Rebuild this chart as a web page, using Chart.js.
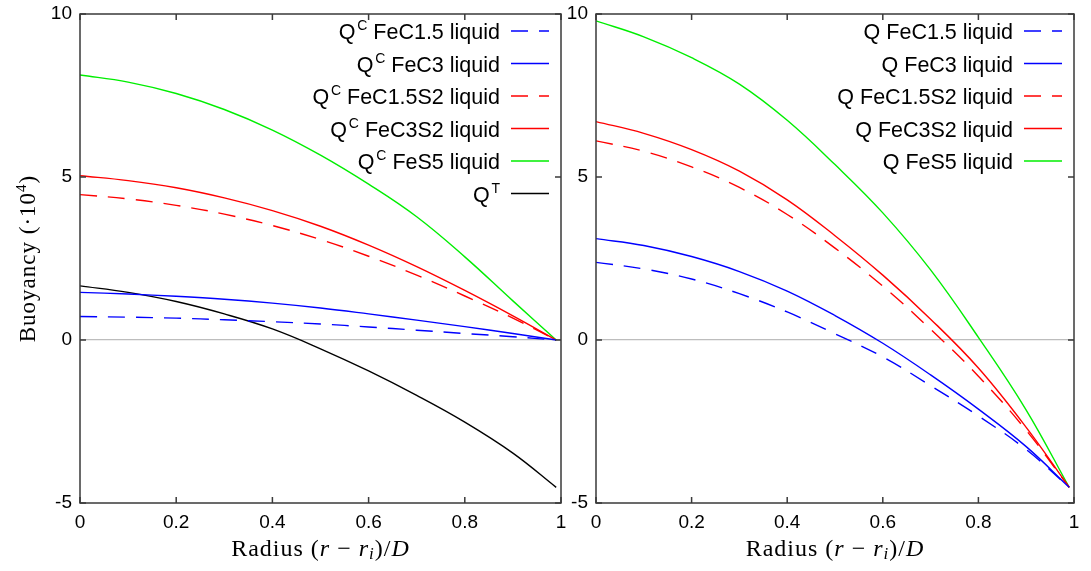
<!DOCTYPE html>
<html>
<head>
<meta charset="utf-8">
<script src="https://cdn.jsdelivr.net/npm/chart.js@4.4.1/dist/chart.umd.min.js"></script>
<style>
  html, body { margin: 0; padding: 0; background: #fff; }
  #wrap { position: relative; width: 1091px; height: 571px; }
  .panel { position: absolute; top: 0; height: 571px; }
  #left { left: 0; width: 566px; }
  #right { left: 560px; width: 531px; }
</style>
</head>
<body>
<div id="wrap">
  <div class="panel" id="left"><canvas id="graficoEsq"></canvas></div>
  <div class="panel" id="right"><canvas id="graficoDir"></canvas></div>
</div>
<script>
// radius (r - ri)/D
const raio = [0, 0.1, 0.2, 0.3, 0.4, 0.5, 0.6, 0.7, 0.8, 0.9, 0.99];
const xTicks = [0, 0.2, 0.4, 0.6, 0.8, 1];
const yTicks = [-5, 0, 5, 10];

// left panel: compositional buoyancy + thermal
const labelsEsq = ['Q^C FeC1.5 liquid', 'Q^C FeC3 liquid', 'Q^C FeC1.5S2 liquid', 'Q^C FeC3S2 liquid', 'Q^C FeS5 liquid', 'Q^T'];
const qcFeC15   = [0.72, 0.70, 0.67, 0.62, 0.56, 0.49, 0.40, 0.30, 0.20, 0.10, 0];
const qcFeC3    = [1.46, 1.41, 1.34, 1.25, 1.13, 0.98, 0.80, 0.61, 0.41, 0.20, 0];
const qcFeC15S2 = [4.46, 4.33, 4.13, 3.86, 3.51, 3.08, 2.57, 1.99, 1.35, 0.67, 0];
const qcFeC3S2  = [5.04, 4.89, 4.67, 4.36, 3.97, 3.49, 2.91, 2.25, 1.52, 0.74, 0];
const qcFeS5    = [8.13, 7.91, 7.56, 7.07, 6.44, 5.67, 4.78, 3.78, 2.55, 1.20, 0];
const qT        = [1.66, 1.46, 1.18, 0.80, 0.34, -0.27, -0.95, -1.70, -2.52, -3.47, -4.52];

// right panel: total buoyancy
const labelsDir = ['Q FeC1.5 liquid', 'Q FeC3 liquid', 'Q FeC1.5S2 liquid', 'Q FeC3S2 liquid', 'Q FeS5 liquid'];
const qFeC15   = [2.38, 2.18, 1.87, 1.42, 0.86, 0.19, -0.52, -1.40, -2.33, -3.36, -4.52];
const qFeC3    = [3.11, 2.90, 2.56, 2.10, 1.50, 0.75, -0.10, -1.07, -2.12, -3.27, -4.52];
const qFeC15S2 = [6.11, 5.79, 5.31, 4.68, 3.85, 2.82, 1.65, 0.33, -1.11, -2.77, -4.52];
const qFeC3S2  = [6.70, 6.34, 5.84, 5.18, 4.30, 3.20, 1.99, 0.64, -0.86, -2.68, -4.52];
const qFeS5    = [9.79, 9.30, 8.66, 7.85, 6.74, 5.38, 3.90, 2.15, 0.08, -2.15, -4.52];

const cores = ['#0000ff', '#0000ff', '#ff0000', '#ff0000', '#00ee00', '#000000'];
const tracos = [[17, 11], [], [17, 11], [], [], []];

const fonteSans = '"Liberation Sans", Arial, sans-serif';
const fonteSerif = '"Liberation Serif", "Times New Roman", serif';

// draws a list of [text, font, dy] pieces starting at x
function desenharPartes(ctx, partes, x, y) {
  partes.forEach(p => {
    ctx.font = p[1];
    ctx.fillText(p[0], x, y + (p[2] || 0));
    x += ctx.measureText(p[0]).width;
  });
}
function larguraPartes(ctx, partes) {
  let w = 0;
  partes.forEach(p => { ctx.font = p[1]; w += ctx.measureText(p[0]).width; });
  return w;
}

// frame with inward ticks, gnuplot style
const moldura = {
  id: 'moldura',
  afterDatasetsDraw(chart) {
    const ctx = chart.ctx;
    const a = chart.chartArea;
    const sx = chart.scales.x, sy = chart.scales.y;
    ctx.save();
    ctx.strokeStyle = '#3a3a3a';
    ctx.lineWidth = 1.5;
    ctx.strokeRect(a.left, a.top, a.right - a.left, a.bottom - a.top);
    ctx.beginPath();
    xTicks.forEach(v => {
      const px = sx.getPixelForValue(v);
      ctx.moveTo(px, a.bottom); ctx.lineTo(px, a.bottom - 6);
      ctx.moveTo(px, a.top); ctx.lineTo(px, a.top + 6);
    });
    yTicks.forEach(v => {
      const py = sy.getPixelForValue(v);
      ctx.moveTo(a.left, py); ctx.lineTo(a.left + 6, py);
      ctx.moveTo(a.right, py); ctx.lineTo(a.right - 6, py);
    });
    ctx.stroke();
    ctx.restore();
  }
};

// legend on the right, text right-aligned, with superscripts
const legendaQ = {
  id: 'legendaQ',
  afterDatasetsDraw(chart) {
    const ctx = chart.ctx;
    const a = chart.chartArea;
    const fonte = '21.5px ' + fonteSans;
    const fonteSup = '14px ' + fonteSans;
    ctx.save();
    chart.data.datasets.forEach((ds, i) => {
      const y = a.top + 17 + i * 32.5;
      const x1 = a.right - 50, x2 = a.right - 12;
      ctx.strokeStyle = ds.borderColor;
      ctx.lineWidth = 1.4;
      ctx.setLineDash(ds.borderDash || []);
      ctx.beginPath(); ctx.moveTo(x1, y); ctx.lineTo(x2, y); ctx.stroke();
      ctx.setLineDash([]);
      const m = ds.label.match(/^(\S+)\^(\S)(.*)$/);
      const partes = m ? [[m[1] + '\u200a', fonte], [m[2], fonteSup, -9], [m[3], fonte]] : [[ds.label, fonte]];
      ctx.fillStyle = '#000';
      ctx.textBaseline = 'alphabetic';
      const w = larguraPartes(ctx, partes);
      desenharPartes(ctx, partes, x1 - 11 - w, y + 8);
    });
    ctx.restore();
  }
};

// axis titles in math style
const titulos = {
  id: 'titulos',
  afterDraw(chart, args, opts) {
    const ctx = chart.ctx;
    const a = chart.chartArea;
    const up = '24px ' + fonteSerif;
    const it = 'italic 24px ' + fonteSerif;
    const small = 'italic 17px ' + fonteSerif;
    ctx.save();
    ctx.fillStyle = '#000';
    ctx.textBaseline = 'middle';
    ctx.letterSpacing = '1px';
    const px = [['Radius ', up], ['(', up], ['r', it], [' \u2212 ', up], ['r', it], ['i', small, 5], [')/', up], ['D', it]];
    const w = larguraPartes(ctx, px);
    desenharPartes(ctx, px, (a.left + a.right) / 2 - w / 2, 550);
    if (opts.yTitle) {
      const uy = '23px ' + fonteSerif;
      const py = [['Buoyancy (\u00b710', uy], ['4', '15px ' + fonteSerif, -7], [')', uy]];
      const wy = larguraPartes(ctx, py);
      ctx.translate(29, (a.top + a.bottom) / 2);
      ctx.rotate(-Math.PI / 2);
      desenharPartes(ctx, py, -wy / 2, 0);
    }
    ctx.restore();
  }
};

function montarGrafico(id, rotulos, series, larguraEixo, padDir, yTitle) {
  const ctx = document.getElementById(id);
  new Chart(ctx, {
    type: 'line',
    data: {
      datasets: series.map((s, i) => ({
        label: rotulos[i],
        data: raio.map((x, j) => ({ x: x, y: s[j] })),
        borderColor: cores[i],
        borderDash: tracos[i],
        borderWidth: 1.4,
        pointRadius: 0,
        fill: false,
        tension: 0.4
      }))
    },
    options: {
      animation: false,
      responsive: true,
      maintainAspectRatio: false,
      layout: { padding: { top: 14, right: padDir, bottom: 0, left: 0 } },
      plugins: {
        legend: { display: false },
        tooltip: { enabled: false },
        titulos: { yTitle: yTitle }
      },
      scales: {
        x: {
          type: 'linear',
          min: 0,
          max: 1,
          afterBuildTicks: s => { s.ticks = xTicks.map(v => ({ value: v })); },
          afterFit: s => { s.height = 68; s.paddingLeft = 0; s.paddingRight = 0; },
          grid: { display: false, drawTicks: false },
          border: { display: false },
          ticks: { padding: 8, color: '#000', font: { family: fonteSans, size: 19 }, maxRotation: 0, callback: v => String(v) }
        },
        y: {
          min: -5,
          max: 10,
          afterBuildTicks: s => { s.ticks = yTicks.map(v => ({ value: v })); },
          afterFit: s => { s.width = larguraEixo; s.paddingTop = 0; s.paddingBottom = 0; },
          grid: {
            drawTicks: false,
            lineWidth: 1.2,
            color: c => (c.tick && c.tick.value === 0) ? '#bdbdbd' : 'rgba(0,0,0,0)'
          },
          border: { display: false },
          ticks: { padding: 8, color: '#000', font: { family: fonteSans, size: 19 }, callback: v => String(v) }
        }
      }
    },
    plugins: [moldura, legendaQ, titulos]
  });
}

montarGrafico('graficoEsq', labelsEsq, [qcFeC15, qcFeC3, qcFeC15S2, qcFeC3S2, qcFeS5, qT], 80, 5, true);
montarGrafico('graficoDir', labelsDir, [qFeC15, qFeC3, qFeC15S2, qFeC3S2, qFeS5], 36, 17, false);
</script>
</body>
</html>
